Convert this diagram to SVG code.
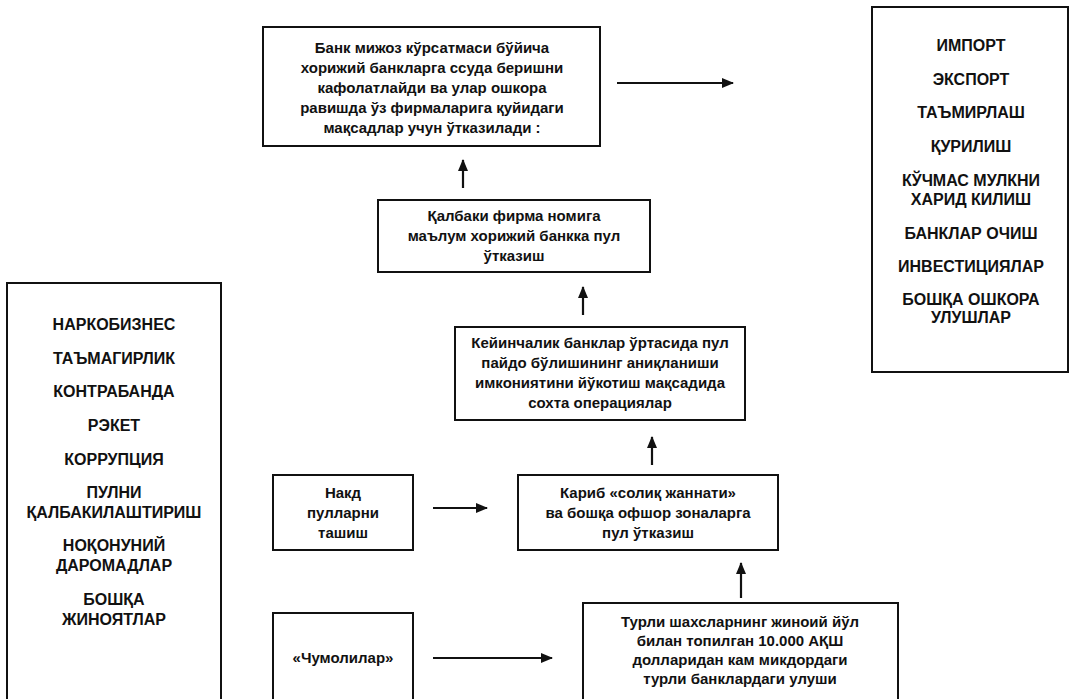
<svg xmlns="http://www.w3.org/2000/svg" width="1078" height="699" viewBox="0 0 1078 699">
<defs>
<style>
.box{fill:#fff;stroke:#111;stroke-width:2}
.t{font-family:"Liberation Sans",Arial,sans-serif;font-size:15px;font-weight:bold;fill:#111;text-anchor:middle}
.c{font-family:"Liberation Sans",Arial,sans-serif;font-size:16px;font-weight:bold;fill:#111;text-anchor:middle}
.ln{stroke:#111;stroke-width:2.2;fill:none;marker-end:url(#ah)}
</style>
<marker id="ah" viewBox="0 0 12 10" refX="11" refY="5" markerWidth="12" markerHeight="10" markerUnits="userSpaceOnUse" orient="auto">
<path d="M0,0 L12,5 L0,10 Z" fill="#111"/>
</marker>
</defs>
<rect width="1078" height="699" fill="#fff"/>

<g id="connectors">
<line class="ln" x1="617" y1="83" x2="733" y2="83"/>
<line class="ln" x1="463" y1="188" x2="463" y2="160"/>
<line class="ln" x1="583" y1="315" x2="583" y2="287"/>
<line class="ln" x1="652" y1="465" x2="652" y2="437"/>
<line class="ln" x1="741" y1="598" x2="741" y2="563"/>
<line class="ln" x1="433" y1="508" x2="487" y2="508"/>
<line class="ln" x1="433" y1="658" x2="552" y2="658"/>
</g>

<g id="top-box">
<rect class="box" x="263" y="27" width="337" height="119"/>
<text class="t" x="432" y="53">Банк мижоз кўрсатмаси бўйича</text>
<text class="t" x="432" y="73">хорижий банкларга ссуда беришни</text>
<text class="t" x="432" y="93">кафолатлайди ва улар ошкора</text>
<text class="t" x="432" y="113">равишда ўз фирмаларига қуйидаги</text>
<text class="t" x="432" y="133">мақсадлар учун ўтказилади :</text>
</g>

<g id="right-list">
<rect class="box" x="872" y="7" width="196" height="365"/>
<text class="c" x="971" y="51">ИМПОРТ</text>
<text class="c" x="971" y="85">ЭКСПОРТ</text>
<text class="c" x="971" y="118">ТАЪМИРЛАШ</text>
<text class="c" x="971" y="152">ҚУРИЛИШ</text>
<text class="c" x="971" y="186">КЎЧМАС МУЛКНИ</text>
<text class="c" x="971" y="205">ХАРИД КИЛИШ</text>
<text class="c" x="971" y="239">БАНКЛАР ОЧИШ</text>
<text class="c" x="971" y="272">ИНВЕСТИЦИЯЛАР</text>
<text class="c" x="971" y="305">БОШҚА ОШКОРА</text>
<text class="c" x="971" y="323">УЛУШЛАР</text>
</g>

<g id="fake-firm">
<rect class="box" x="378" y="200" width="272" height="72"/>
<text class="t" x="514" y="221">Қалбаки фирма номига</text>
<text class="t" x="514" y="241">маълум хорижий банкка пул</text>
<text class="t" x="514" y="261">ўтказиш</text>
</g>

<g id="fake-ops">
<rect class="box" x="455" y="327" width="290" height="93"/>
<text class="t" x="600" y="348">Кейинчалик банклар ўртасида пул</text>
<text class="t" x="600" y="368">пайдо бўлишининг аниқланиши</text>
<text class="t" x="600" y="388">имкониятини йўкотиш мақсадида</text>
<text class="t" x="600" y="408">сохта операциялар</text>
</g>

<g id="left-list">
<rect class="box" x="7" y="283" width="214" height="430"/>
<text class="c" x="114" y="330">НАРКОБИЗНЕС</text>
<text class="c" x="114" y="364">ТАЪМАГИРЛИК</text>
<text class="c" x="114" y="397">КОНТРАБАНДА</text>
<text class="c" x="114" y="431">РЭКЕТ</text>
<text class="c" x="114" y="465">КОРРУПЦИЯ</text>
<text class="c" x="114" y="498">ПУЛНИ</text>
<text class="c" x="114" y="518">ҚАЛБАКИЛАШТИРИШ</text>
<text class="c" x="114" y="551">НОҚОНУНИЙ</text>
<text class="c" x="114" y="571">ДАРОМАДЛАР</text>
<text class="c" x="114" y="605">БОШҚА</text>
<text class="c" x="114" y="625">ЖИНОЯТЛАР</text>
</g>

<g id="cash">
<rect class="box" x="273" y="475" width="140" height="75"/>
<text class="t" x="343" y="498">Накд</text>
<text class="t" x="343" y="518">пулларни</text>
<text class="t" x="343" y="538">ташиш</text>
</g>

<g id="offshore">
<rect class="box" x="518" y="475" width="260" height="75"/>
<text class="t" x="648" y="498">Кариб «солиқ жаннати»</text>
<text class="t" x="648" y="518">ва бошқа офшор зоналарга</text>
<text class="t" x="648" y="538">пул ўтказиш</text>
</g>

<g id="ants">
<rect class="box" x="273" y="613" width="140" height="100"/>
<text class="t" x="343" y="663">«Чумолилар»</text>
</g>

<g id="shares">
<rect class="box" x="583" y="603" width="315" height="110"/>
<text class="t" x="740" y="627">Турли шахсларнинг жиноий йўл</text>
<text class="t" x="740" y="646">билан топилган 10.000 АҚШ</text>
<text class="t" x="740" y="665">долларидан кам микдордаги</text>
<text class="t" x="740" y="684">турли банклардаги улуши</text>
</g>
</svg>
